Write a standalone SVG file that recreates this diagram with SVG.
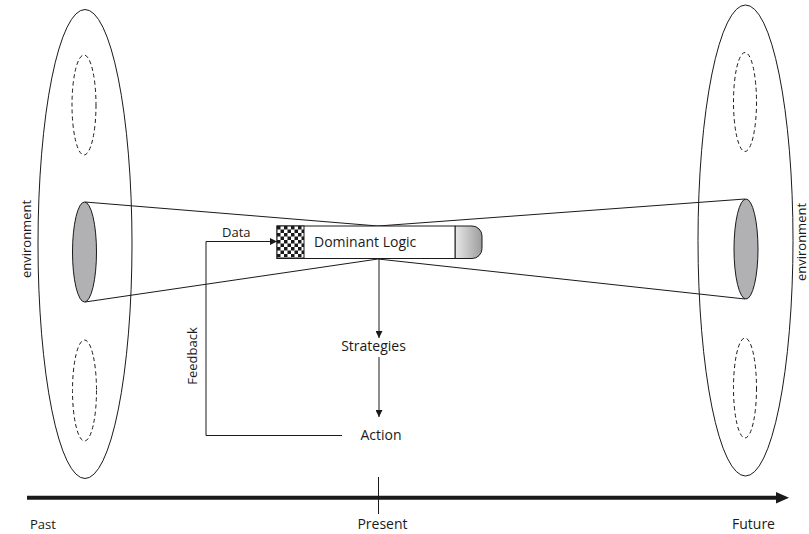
<svg xmlns="http://www.w3.org/2000/svg" width="809" height="534" viewBox="0 0 809 534">
<style>
.ln{fill:none;stroke:#1a1a1a;stroke-width:1}
.dash{fill:none;stroke:#1a1a1a;stroke-width:1;stroke-dasharray:4 3}
.core{fill:#b1b1b3;stroke:#1a1a1a;stroke-width:1}
.t{font-family:"Open Sans","Noto Sans",sans-serif;font-size:14px;fill:#1a1a1a}
.s{font-size:13px}
</style>
<defs>
<marker id="ah" viewBox="0 0 10 10" refX="10" refY="5" markerWidth="7" markerHeight="7" markerUnits="userSpaceOnUse" orient="auto">
<path d="M0,0 L10,5 L0,10 z" fill="#1a1a1a"/>
</marker>
<pattern id="chk" x="277" y="226" width="7" height="7" patternUnits="userSpaceOnUse">
<rect width="7" height="7" fill="#fff"/>
<rect width="3.5" height="3.5" fill="#1a1a1a"/>
<rect x="3.5" y="3.5" width="3.5" height="3.5" fill="#1a1a1a"/>
</pattern>
<linearGradient id="cap" x1="0" y1="0" x2="1" y2="0">
<stop offset="0" stop-color="#e8e8e8"/>
<stop offset="1" stop-color="#9c9c9c"/>
</linearGradient>
</defs>
<rect width="809" height="534" fill="#fff"/>

<g id="past-environment">
<ellipse class="ln" cx="85" cy="244" rx="47" ry="234.5"/>
<ellipse class="dash" cx="84" cy="105" rx="12" ry="50"/>
<ellipse class="dash" cx="84.5" cy="390.5" rx="12" ry="50.5"/>
<text class="t s" transform="translate(31,239) rotate(-90)" text-anchor="middle">environment</text>
</g>

<g id="future-environment">
<ellipse class="ln" cx="745.5" cy="240.5" rx="47.5" ry="235.5"/>
<ellipse class="dash" cx="745" cy="102" rx="11.5" ry="49.5"/>
<ellipse class="dash" cx="745" cy="388" rx="11.5" ry="50"/>
<text class="t s" transform="translate(806,242) rotate(-90)" text-anchor="middle">environment</text>
</g>

<g id="cone">
<polyline class="ln" points="85,202 378,226 745,199"/>
<polyline class="ln" points="85,302 378,259 745,299"/>
<ellipse class="core" cx="84.5" cy="252" rx="12" ry="50"/>
<ellipse class="core" cx="746" cy="249" rx="12" ry="50"/>
</g>

<g id="dominant-logic">
<path d="M455,226 H472 A10,10 0 0 1 482,236 V248.5 A10,10 0 0 1 472,258.5 H455 Z" fill="url(#cap)" stroke="#1a1a1a" stroke-width="1"/>
<rect x="277" y="226" width="178" height="32.5" fill="#fff" stroke="#1a1a1a" stroke-width="1"/>
<rect x="277" y="226" width="27" height="32.5" fill="url(#chk)" stroke="#1a1a1a" stroke-width="1"/>
<text class="t" x="314" y="247" font-size="15">Dominant Logic</text>
</g>

<g id="strategies">
<text class="t" x="373.5" y="351" text-anchor="middle">Strategies</text>
</g>

<g id="action">
<text class="t" x="381" y="440" text-anchor="middle">Action</text>
</g>

<g id="connectors">
<line class="ln" x1="379" y1="259" x2="379" y2="338" marker-end="url(#ah)"/>
<line class="ln" x1="379" y1="357" x2="379" y2="417" marker-end="url(#ah)"/>
<polyline class="ln" points="342,435.5 206,435.5 206,241.5 277,241.5" marker-end="url(#ah)"/>
<text class="t s" x="222" y="237">Data</text>
<text class="t s" transform="translate(197,356) rotate(-90)" text-anchor="middle">Feedback</text>
</g>

<g id="timeline">
<line x1="27" y1="497.7" x2="778" y2="497.7" stroke="#1a1a1a" stroke-width="4"/>
<polygon points="776,492 789,497.7 776,503.5" fill="#1a1a1a"/>
<line class="ln" x1="378.5" y1="477" x2="378.5" y2="514"/>
<text class="t s" x="30" y="529">Past</text>
<text class="t" x="382.5" y="529" text-anchor="middle">Present</text>
<text class="t" x="753.5" y="529" text-anchor="middle">Future</text>
</g>
</svg>
